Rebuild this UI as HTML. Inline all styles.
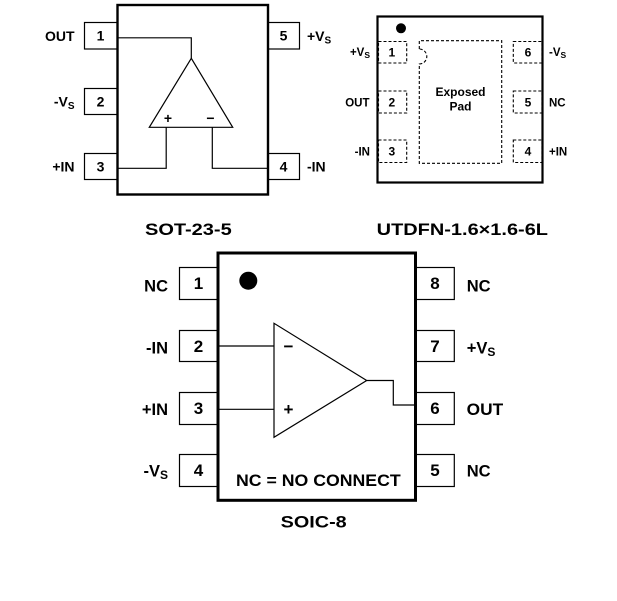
<!DOCTYPE html>
<html>
<head>
<meta charset="utf-8">
<style>
  html, body { margin: 0; padding: 0; background: #fff; }
  svg { display: block; }
  text { font-family: "Liberation Sans", Arial, sans-serif; fill: #000; }
  .b { font-weight: bold; }
</style>
</head>
<body>
<svg width="617" height="601" viewBox="0 0 617 601" xmlns="http://www.w3.org/2000/svg">
  <rect x="0" y="0" width="617" height="601" fill="#fff"/>

  <!-- ================= SOT-23-5 ================= -->
  <g fill="none" stroke="#000">
    <rect x="117.5" y="5" width="150.5" height="189.5" stroke-width="2.4"/>
    <rect x="84.5" y="22.5" width="33" height="26.5" stroke-width="1.2"/>
    <rect x="84.5" y="88.5" width="33" height="26" stroke-width="1.2"/>
    <rect x="84.5" y="153.5" width="33" height="26" stroke-width="1.2"/>
    <rect x="268" y="22.5" width="31.5" height="26.5" stroke-width="1.2"/>
    <rect x="268" y="153.5" width="31.5" height="26" stroke-width="1.2"/>
    <polyline points="117.5,37.8 191.3,37.8 191.3,58.3" stroke-width="1.2"/>
    <polygon points="191.3,58.3 149.3,127.3 232.7,127.3" stroke-width="1.2"/>
    <polyline points="166.2,127.3 166.2,168.3 117.5,168.3" stroke-width="1.2"/>
    <polyline points="212.3,127.3 212.3,168.3 268,168.3" stroke-width="1.2"/>
  </g>
  <g class="b" font-size="14">
    <text x="100.5" y="40.5" text-anchor="middle" class="b">1</text>
    <text x="100.5" y="106.5" text-anchor="middle" class="b">2</text>
    <text x="100.5" y="171.5" text-anchor="middle" class="b">3</text>
    <text x="283.5" y="40.5" text-anchor="middle" class="b">5</text>
    <text x="283.5" y="171.5" text-anchor="middle" class="b">4</text>

    <text x="74.5" y="41" text-anchor="end" class="b">OUT</text>
    <text x="74.5" y="106.5" text-anchor="end" class="b">-V<tspan font-size="10" dy="2.5">S</tspan></text>
    <text x="74.5" y="171.5" text-anchor="end" class="b">+IN</text>
    <text x="307" y="41" class="b">+V<tspan font-size="10" dy="2.5">S</tspan></text>
    <text x="307" y="171.5" class="b">-IN</text>

    <text x="168" y="123" text-anchor="middle" class="b">+</text>
    <text x="210.5" y="123" text-anchor="middle" class="b">−</text>
  </g>
  <text x="145" y="235" font-size="16.5" class="b" textLength="86.7" lengthAdjust="spacingAndGlyphs">SOT-23-5</text>

  <!-- ================= UTDFN ================= -->
  <g fill="none" stroke="#000">
    <rect x="377.5" y="16.5" width="165" height="166" stroke-width="2.2"/>
  </g>
  <circle cx="401" cy="28.3" r="5" fill="#000"/>
  <g fill="none" stroke="#000" stroke-width="1.1" stroke-dasharray="3,2">
    <rect x="378.5" y="41.5" width="28.2" height="21.5"/>
    <rect x="378.5" y="91" width="28.2" height="22"/>
    <rect x="378.5" y="140" width="28.2" height="22.5"/>
    <rect x="513.3" y="41.5" width="28.7" height="21.5"/>
    <rect x="513.3" y="91" width="28.7" height="22"/>
    <rect x="513.3" y="140" width="28.7" height="22.5"/>
    <path d="M419.3,49 V40.7 H501.7 V163.3 H419.3 V64 A7.5,7.5 0 0 0 419.3,49"/>
  </g>
  <g font-size="12">
    <text x="391.8" y="56.5" text-anchor="middle" class="b">1</text>
    <text x="391.8" y="106.5" text-anchor="middle" class="b">2</text>
    <text x="391.8" y="155.5" text-anchor="middle" class="b">3</text>
    <text x="528" y="56.5" text-anchor="middle" class="b">6</text>
    <text x="528" y="106.5" text-anchor="middle" class="b">5</text>
    <text x="528" y="155.5" text-anchor="middle" class="b">4</text>

    <text x="370" y="56" text-anchor="end" class="b" font-size="11.5">+V<tspan font-size="8.5" dy="2">S</tspan></text>
    <text x="369.5" y="106.3" text-anchor="end" class="b" textLength="24.3" lengthAdjust="spacingAndGlyphs">OUT</text>
    <text x="370" y="155.5" text-anchor="end" class="b" font-size="11.5">-IN</text>
    <text x="549" y="56" class="b" font-size="11.5">-V<tspan font-size="8.5" dy="2">S</tspan></text>
    <text x="549" y="106.3" class="b" font-size="11.5">NC</text>
    <text x="549" y="155.5" class="b" font-size="11.5">+IN</text>

    <text x="460.5" y="96" text-anchor="middle" class="b">Exposed</text>
    <text x="460.5" y="110.5" text-anchor="middle" class="b">Pad</text>
  </g>
  <text x="376.7" y="235" font-size="16.5" class="b" textLength="171.3" lengthAdjust="spacingAndGlyphs">UTDFN-1.6×1.6-6L</text>

  <!-- ================= SOIC-8 ================= -->
  <g fill="none" stroke="#000">
    <rect x="218" y="253" width="197.5" height="247.3" stroke-width="3"/>
    <rect x="179.5" y="267.5" width="38.5" height="32" stroke-width="1.2"/>
    <rect x="179.5" y="330.5" width="38.5" height="31" stroke-width="1.2"/>
    <rect x="179.5" y="392.5" width="38.5" height="32" stroke-width="1.2"/>
    <rect x="179.5" y="454.5" width="38.5" height="32" stroke-width="1.2"/>
    <rect x="415.5" y="267.5" width="38.8" height="32" stroke-width="1.2"/>
    <rect x="415.5" y="330.5" width="38.8" height="31" stroke-width="1.2"/>
    <rect x="415.5" y="392.5" width="38.8" height="32" stroke-width="1.2"/>
    <rect x="415.5" y="454.5" width="38.8" height="32" stroke-width="1.2"/>
    <polygon points="274,323.3 274,437.3 366.7,380.5" stroke-width="1.2"/>
    <line x1="218" y1="346" x2="274" y2="346" stroke-width="1.2"/>
    <line x1="218" y1="409.3" x2="274" y2="409.3" stroke-width="1.2"/>
    <polyline points="366.7,380.5 393.3,380.5 393.3,405 415.5,405" stroke-width="1.2"/>
  </g>
  <circle cx="248.3" cy="280.7" r="9" fill="#000"/>
  <g font-size="17">
    <text x="198.5" y="289" text-anchor="middle" class="b">1</text>
    <text x="198.5" y="352" text-anchor="middle" class="b">2</text>
    <text x="198.5" y="414" text-anchor="middle" class="b">3</text>
    <text x="198.5" y="476" text-anchor="middle" class="b">4</text>
    <text x="435" y="289" text-anchor="middle" class="b">8</text>
    <text x="435" y="352" text-anchor="middle" class="b">7</text>
    <text x="435" y="414" text-anchor="middle" class="b">6</text>
    <text x="435" y="476" text-anchor="middle" class="b">5</text>

    <text x="168" y="291.5" text-anchor="end" class="b" font-size="16.5">NC</text>
    <text x="168" y="353.5" text-anchor="end" class="b" font-size="16.5">-IN</text>
    <text x="168" y="415" text-anchor="end" class="b" font-size="16.5">+IN</text>
    <text x="168" y="476.5" text-anchor="end" class="b" font-size="16.5">-V<tspan font-size="12" dy="2.5">S</tspan></text>

    <text x="466.7" y="291.5" class="b" font-size="16.5">NC</text>
    <text x="466.7" y="353.5" class="b" font-size="16.5">+V<tspan font-size="12" dy="2.5">S</tspan></text>
    <text x="466.7" y="415" class="b" textLength="36.5" lengthAdjust="spacingAndGlyphs" font-size="16.5">OUT</text>
    <text x="466.7" y="476.5" class="b" font-size="16.5">NC</text>

    <text x="288.5" y="352" text-anchor="middle" class="b">−</text>
    <text x="288.5" y="415" text-anchor="middle" class="b">+</text>

    <text x="236" y="486" class="b" textLength="164.7" lengthAdjust="spacingAndGlyphs" font-size="16.5">NC = NO CONNECT</text>
  </g>
  <text x="280.7" y="527.5" font-size="16.5" class="b" textLength="66" lengthAdjust="spacingAndGlyphs">SOIC-8</text>
</svg>
</body>
</html>
